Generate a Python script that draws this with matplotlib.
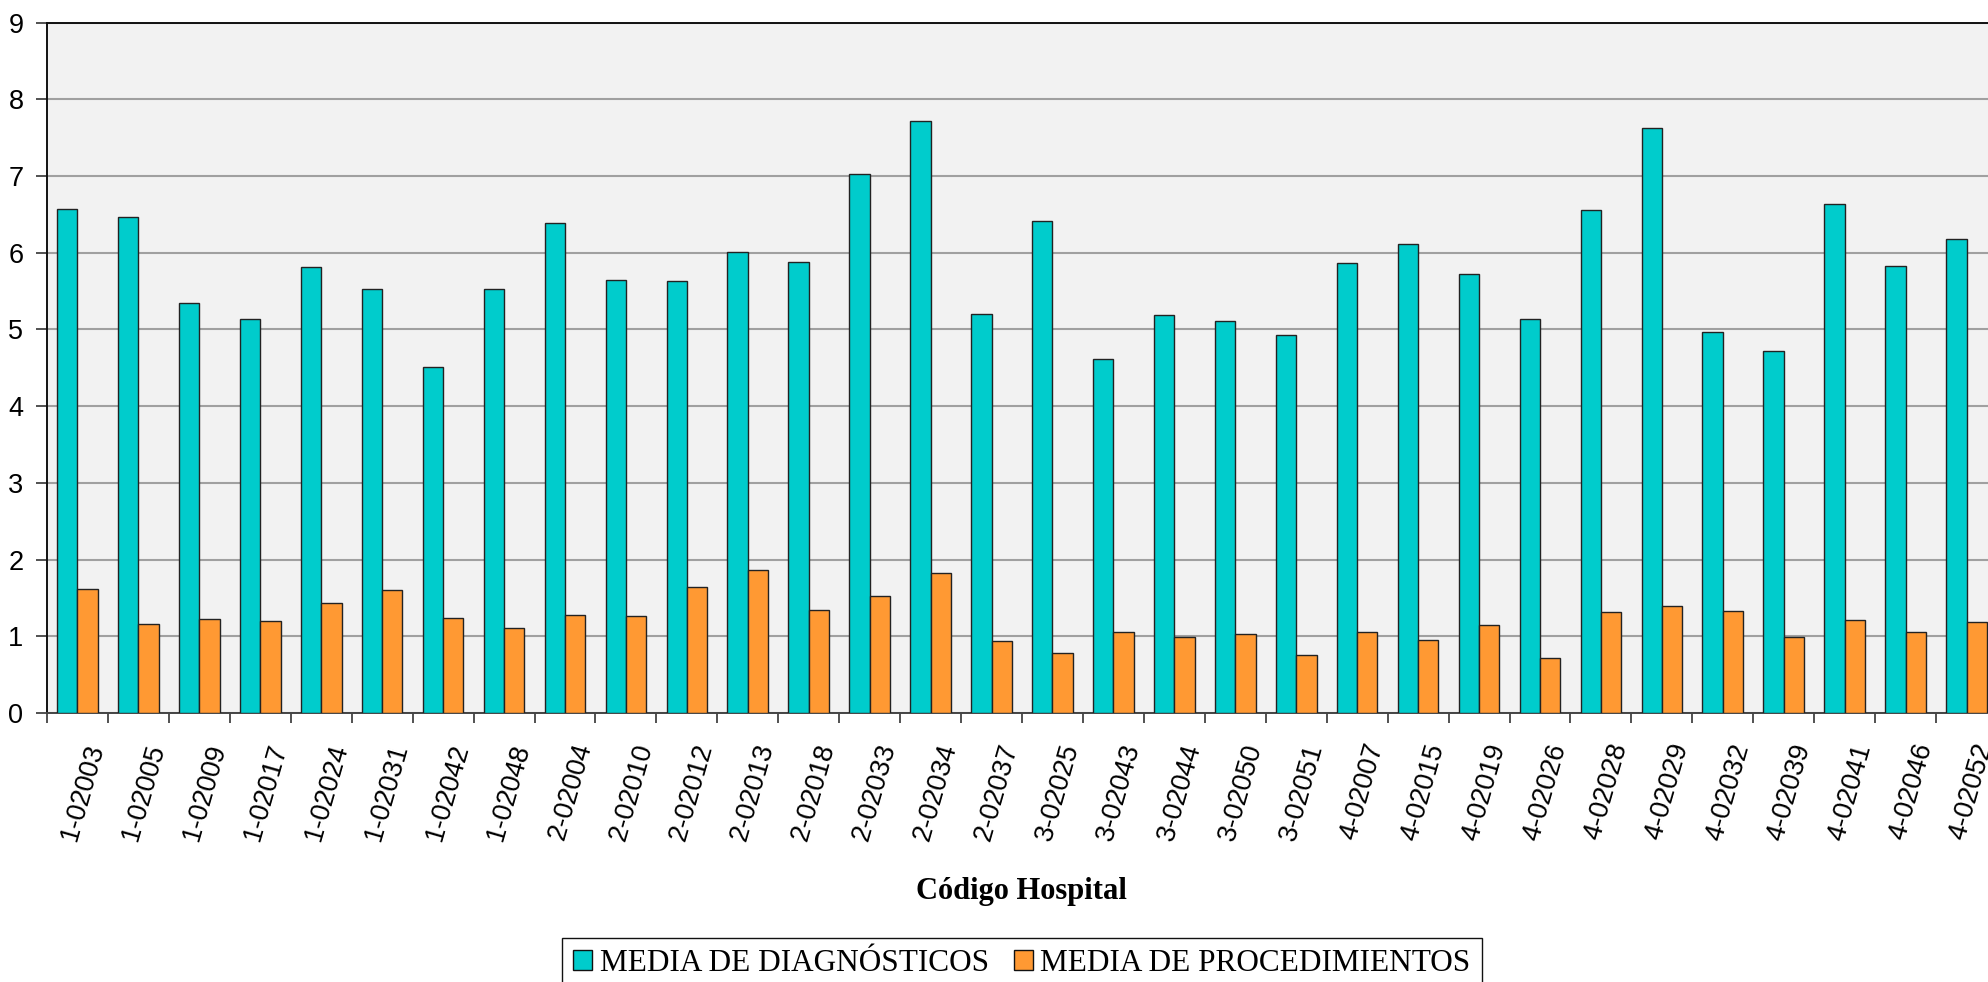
import matplotlib
matplotlib.use('Agg')
import matplotlib.pyplot as plt
import matplotlib.transforms as mtransforms
from matplotlib.patches import Patch
import numpy as np

hospitals = ['1-02003', '1-02005', '1-02009', '1-02017', '1-02024', '1-02031', '1-02042', '1-02048',
             '2-02004', '2-02010', '2-02012', '2-02013', '2-02018', '2-02033', '2-02034', '2-02037',
             '3-02025', '3-02043', '3-02044', '3-02050', '3-02051',
             '4-02007', '4-02015', '4-02019', '4-02026', '4-02028', '4-02029', '4-02032', '4-02039',
             '4-02041', '4-02046', '4-02052']
diagnosticos = [6.57, 6.47, 5.35, 5.14, 5.81, 5.53, 4.51, 5.53,
                6.39, 5.65, 5.63, 6.01, 5.88, 7.02, 7.72, 5.20,
                6.41, 4.62, 5.19, 5.11, 4.93,
                5.86, 6.11, 5.72, 5.13, 6.56, 7.62, 4.97, 4.72, 6.63, 5.82, 6.18]
procedimientos = [1.61, 1.165, 1.23, 1.20, 1.44, 1.60, 1.24, 1.11,
                  1.28, 1.27, 1.64, 1.86, 1.34, 1.53, 1.82, 0.94,
                  0.785, 1.06, 0.99, 1.03, 0.76,
                  1.06, 0.95, 1.15, 0.72, 1.31, 1.39, 1.33, 0.99, 1.21, 1.06, 1.18]
series_names = ['MEDIA DE DIAGNÓSTICOS', 'MEDIA DE PROCEDIMIENTOS']
x_title = 'Código Hospital'

c_diag = '#00CCCC'
c_proc = '#FF9933'
W, H = 1988, 982

fig = plt.figure(figsize=(W / 100, H / 100), dpi=100)
ax = fig.add_axes([47 / W, 1 - 713 / H, 1950 / W, 690.5 / H])
ax.set_facecolor('#F2F2F2')

x = np.arange(len(hospitals))
w = 1 / 3
ax.bar(x - w / 2, diagnosticos, w, color=c_diag, edgecolor='#222222', linewidth=1.0, zorder=3)
ax.bar(x + w / 2, procedimientos, w, color=c_proc, edgecolor='#222222', linewidth=1.0, zorder=3)

ax.set_xlim(-0.5, len(hospitals) - 0.5)
ax.set_ylim(0, 9)
ax.set_yticks(range(10))
ax.yaxis.grid(True, color='#A0A0A0', linewidth=1.5, zorder=0)
ax.set_axisbelow(True)

ax.set_xticks(x)
ax.set_xticklabels(hospitals)
ax.set_xticks(np.arange(-0.5, len(hospitals), 1.0), minor=True)
ax.tick_params(axis='x', which='major', length=0, pad=0)
ax.tick_params(axis='x', which='minor', length=7, width=1.2, color='#333333', direction='out')
ax.tick_params(axis='y', length=8, width=1.2, color='#333333', direction='out', pad=9)

for lbl in ax.get_yticklabels():
    lbl.set_fontfamily('Liberation Sans')
    lbl.set_fontsize(19.5)

offset = mtransforms.ScaledTranslation(19 / 100, -31 / 100, fig.dpi_scale_trans)
for lbl in ax.get_xticklabels():
    lbl.set_fontfamily('Liberation Sans')
    lbl.set_fontsize(19.5)
    lbl.set_rotation(74)
    lbl.set_rotation_mode('anchor')
    lbl.set_ha('right')
    lbl.set_va('center')
    lbl.set_transform(lbl.get_transform() + offset)

for s in ['top', 'left']:
    ax.spines[s].set_color('#111111')
    ax.spines[s].set_linewidth(1.4)
ax.spines['bottom'].set_color('#444444')
ax.spines['bottom'].set_linewidth(1.4)
ax.spines['right'].set_color('#111111')

fig.text(1021 / W, 1 - 891 / H, x_title, ha='center', va='center', fontsize=22,
         fontweight='bold', family='Liberation Serif')

handles = [Patch(facecolor=c_diag, edgecolor='#111111', linewidth=1.0),
           Patch(facecolor=c_proc, edgecolor='#111111', linewidth=1.0)]
leg = fig.legend(handles, series_names, loc='upper center', bbox_to_anchor=(1022 / W, 44 / H),
                 bbox_transform=fig.transFigure, ncol=2, frameon=True, fancybox=False,
                 edgecolor='#111111', framealpha=1, borderaxespad=0, borderpad=0.35,
                 handlelength=0.6, handleheight=0.6, handletextpad=0.25, columnspacing=0.8,
                 prop={'family': 'Liberation Serif', 'size': 22.5})
leg.get_frame().set_linewidth(1.0)

fig.savefig('out.png', dpi=100)
